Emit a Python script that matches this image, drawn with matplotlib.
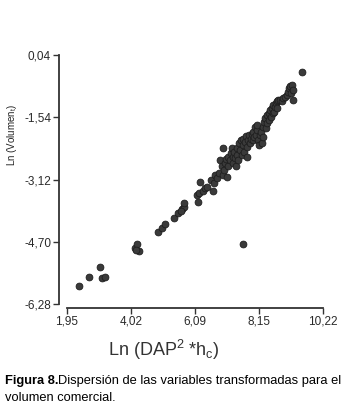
import matplotlib
matplotlib.use("Agg")
import matplotlib.pyplot as plt

# Data: Ln(DAP^2*hc) vs Ln(Volumen)
x_vals = [2.34, 2.67, 3.02, 3.09, 3.17, 4.15, 4.22, 4.28, 4.18,
          4.90, 5.01, 5.12, 5.42, 5.55, 5.66, 5.73, 5.73, 5.62,
          6.19, 6.14, 6.23, 6.25, 6.33, 6.41, 6.46, 6.59, 6.68, 6.70,
          6.73, 6.79, 6.87, 6.89, 6.95, 6.98, 7.02, 7.06, 7.09, 7.11,
          7.14, 7.16, 7.22, 7.24, 7.27, 7.30, 7.32, 7.35, 7.38, 7.41,
          7.43, 7.45, 7.49, 7.52, 7.54, 7.56, 7.59, 7.63, 7.65, 7.67,
          7.70, 7.73, 7.76, 7.78, 7.81, 7.84, 7.86, 7.88, 7.92, 7.95,
          7.97, 8.00, 8.02, 8.06, 8.08, 8.10, 8.13, 8.16, 8.19, 8.22,
          8.24, 8.27, 8.29, 8.32, 8.35, 8.38, 8.40, 8.42, 8.46, 8.49,
          8.51, 8.53, 8.56, 8.60, 8.62, 8.64, 8.67, 8.70, 8.72, 8.75,
          8.78, 8.83, 8.89, 8.94, 8.99, 9.05, 9.10, 9.13, 9.16, 9.18,
          9.21, 9.24, 9.26, 7.00, 7.63, 9.53]
y_vals = [-5.82, -5.59, -5.33, -5.61, -5.59, -4.87, -4.76, -4.93, -4.91,
          -4.44, -4.36, -4.25, -4.09, -3.98, -3.88, -3.81, -3.71, -3.92,
          -3.68, -3.51, -3.45, -3.18, -3.41, -3.34, -3.30, -3.13, -3.40, -3.22,
          -3.01, -3.09, -2.96, -2.63, -2.79, -3.01, -2.88, -2.71, -2.61, -3.05,
          -2.79, -2.54, -2.63, -2.46, -2.33, -2.54, -2.71, -2.41, -2.58, -2.79,
          -2.33, -2.50, -2.63, -2.20, -2.37, -2.12, -2.50, -2.24, -2.08, -2.41,
          -2.16, -2.02, -2.29, -2.54, -2.12, -1.99, -2.20, -2.08, -1.97, -2.12,
          -1.91, -2.03, -1.78, -1.99, -1.86, -1.74, -2.12, -2.24, -1.99, -1.91,
          -2.20, -2.03, -1.78, -1.65, -1.57, -1.82, -1.48, -1.69, -1.44, -1.61,
          -1.36, -1.53, -1.31, -1.44, -1.23, -1.40, -1.27, -1.19, -1.14, -1.31,
          -1.10, -1.09, -1.12, -1.06, -1.02, -0.98, -0.89, -0.81, -0.75, -0.93,
          -0.72, -1.09, -0.85, -2.33, -4.76, -0.40]

x_ticks = [1.95, 4.02, 6.09, 8.15, 10.22]
x_tick_labels = ["1,95", "4,02", "6,09", "8,15", "10,22"]
y_ticks = [0.04, -1.54, -3.12, -4.70, -6.28]
y_tick_labels = ["0,04", "-1,54", "-3,12", "-4,70", "-6,28"]

W, H = 359, 417
fig = plt.figure(figsize=(W / 100, H / 100), dpi=100)
plt.rcParams['font.family'] = ['Liberation Sans', 'DejaVu Sans']
plt.rcParams['mathtext.fontset'] = 'custom'
plt.rcParams['mathtext.rm'] = 'Liberation Sans'
plt.rcParams['mathtext.it'] = 'Liberation Sans'

left, right, top, bottom = 67, 323, 55, 304
ax = fig.add_axes([left / W, 1 - bottom / H, (right - left) / W, (bottom - top) / H])
ax.set_xlim(1.95, 10.22)
ax.set_ylim(-6.28, 0.04)

ax.scatter(x_vals, y_vals, s=24, facecolor='#3a3a3a', edgecolor='#1e1e1e',
           linewidths=0.6, clip_on=False, zorder=3)

for s in ['top', 'right']:
    ax.spines[s].set_visible(False)
ax.spines['left'].set_position(('outward', 6))
ax.spines['bottom'].set_position(('outward', 3))
ax.spines['left'].set_bounds(-6.28, 0.04)
ax.spines['bottom'].set_bounds(1.95, 10.22)
for s in ['left', 'bottom']:
    ax.spines[s].set_color('#333333')
    ax.spines[s].set_linewidth(1.3)

ax.set_xticks(x_ticks)
ax.set_xticklabels(x_tick_labels)
ax.set_yticks(y_ticks)
ax.set_yticklabels(y_tick_labels)
ax.tick_params(axis='both', length=4, width=1.0, color='#333333',
               labelsize=8.5, labelcolor='#2a2a2a', pad=1.5)

fig.text(12 / W, 1 - 135 / H, r'Ln (Volumen$_{t}$)', rotation=90,
         ha='center', va='center', fontsize=7, color='#222222')
fig.text(164 / W, 1 - 350 / H, r'Ln (DAP$^{2}$ *h$_{c}$)',
         ha='center', va='center', fontsize=13, color='#333333')

cap_fam = ['Liberation Sans Narrow', 'Liberation Sans', 'DejaVu Sans']
cap_size = 9.3
t1 = fig.text(5 / W, 1 - 381 / H, 'Figura 8.', ha='left', va='center',
              fontsize=cap_size, fontweight='bold', family=cap_fam)
fig.canvas.draw()
bb = t1.get_window_extent()
fig.text(bb.x1 / W, 1 - 381 / H,
         'Dispersión de las variables transformadas para el',
         ha='left', va='center', fontsize=cap_size, family=cap_fam)
fig.text(5 / W, 1 - 398 / H, 'volumen comercial.', ha='left', va='center',
         fontsize=cap_size, family=cap_fam)

fig.savefig('out.png', dpi=100)
